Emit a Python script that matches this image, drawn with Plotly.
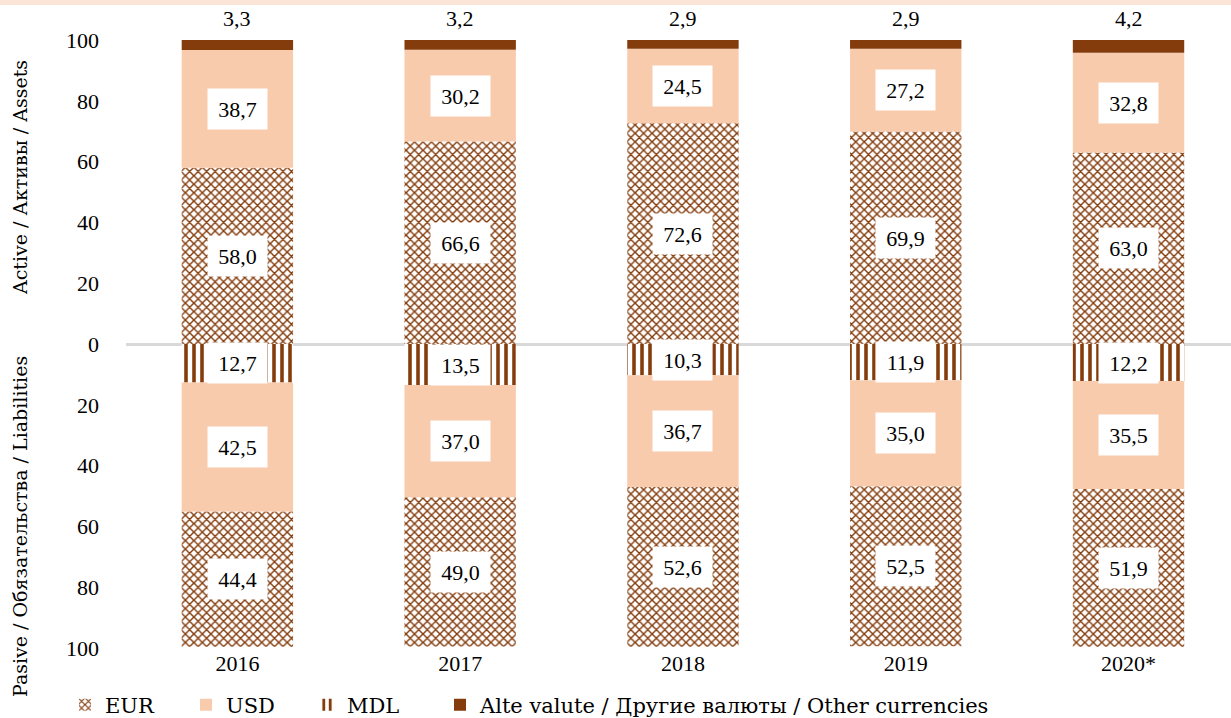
import plotly.graph_objects as go

years = ["2016", "2017", "2018", "2019", "2020*"]
assets_eur = [58.0, 66.6, 72.6, 69.9, 63.0]
assets_usd = [38.7, 30.2, 24.5, 27.2, 32.8]
assets_other = [3.3, 3.2, 2.9, 2.9, 4.2]
liab_mdl = [12.7, 13.5, 10.3, 11.9, 12.2]
liab_usd = [42.5, 37.0, 36.7, 35.0, 35.5]
liab_eur = [44.4, 49.0, 52.6, 52.5, 51.9]
tick_vals = [-100, -80, -60, -40, -20, 0, 20, 40, 60, 80, 100]
tick_text = [str(abs(v)) for v in tick_vals]

BROWN = "#843c0c"
PEACH = "#f8cbad"
NUMFONT = "Liberation Serif"
TXTFONT = "DejaVu Serif"

eur_pattern = dict(shape="x", size=6, solidity=0.42, fgcolor=BROWN, bgcolor="white", fillmode="replace")
mdl_pattern = dict(shape="|", size=8, solidity=0.45, fgcolor=BROWN, bgcolor="white", fillmode="replace")

def fmt(v):
    return f"{v:.1f}".replace(".", ",")

fig = go.Figure()
W = 0.5
fig.add_bar(x=years, y=assets_eur, name="EUR", width=W, marker=dict(color="white", pattern=eur_pattern, line_width=0),
            legendrank=1)
fig.add_bar(x=years, y=assets_usd, name="USD", width=W, marker=dict(color=PEACH, line_width=0), legendrank=2)
fig.add_bar(x=years, y=assets_other, name="Alte valute / Другие валюты / Other currencies", width=W,
            marker=dict(color=BROWN, line_width=0), legend="legend2")
fig.add_bar(x=years, y=[-v for v in liab_mdl], name="MDL", width=W,
            marker=dict(color="white", pattern=mdl_pattern, line_width=0), legendrank=3)
fig.add_bar(x=years, y=[-v for v in liab_usd], name="USD", width=W, marker=dict(color=PEACH, line_width=0),
            showlegend=False)
fig.add_bar(x=years, y=[-v for v in liab_eur], name="EUR", width=W,
            marker=dict(color="white", pattern=eur_pattern, line_width=0), showlegend=False)

ann = []
numfont = dict(family=NUMFONT, size=22, color="black")
box = dict(bgcolor="white", borderpad=7, width=45, height=26, font=numfont, showarrow=False,
           xref="x", yref="y", xanchor="center", yanchor="middle")
for i in range(len(years)):
    e, u, o = assets_eur[i], assets_usd[i], assets_other[i]
    ann.append(dict(x=i, y=e / 2, text=fmt(e), **box))
    ann.append(dict(x=i, y=e + u / 2, text=fmt(u), **box))
    ann.append(dict(x=i, y=e + u + o, text=fmt(o), showarrow=False, xref="x", yref="y", yanchor="bottom",
                    xanchor="center", yshift=7, font=numfont))
    m, lu, le = liab_mdl[i], liab_usd[i], liab_eur[i]
    ann.append(dict(x=i, y=-m / 2, text=fmt(m), **box))
    ann.append(dict(x=i, y=-(m + lu / 2), text=fmt(lu), **box))
    ann.append(dict(x=i, y=-(m + lu + le / 2), text=fmt(le), **box))

PL, PT, PW, PH = 126, 40, 1105, 608
titlefont = dict(family=TXTFONT, size=19, color="black")
for txt, py in [("Active / Активы / Assets", 178), ("Pasive / Обязательства / Liabilities", 527)]:
    ann.append(dict(text=txt, textangle=-90, x=(20 - PL) / PW, y=1 - (py - PT) / PH, xref="paper", yref="paper",
                    xanchor="center", yanchor="middle", showarrow=False, font=titlefont))

legfont = dict(family=TXTFONT, size=21, color="black")
LEG_Y = 13 / 718
fig.update_layout(
    barmode="relative",
    width=1231, height=718,
    margin=dict(l=PL, r=0, t=PT, b=70, autoexpand=False),
    plot_bgcolor="white", paper_bgcolor="white",
    font=dict(family=NUMFONT, size=22, color="black"),
    annotations=ann,
    showlegend=True,
    legend=dict(orientation="h", xref="container", yref="container", x=65 / 1231, y=LEG_Y, yanchor="middle",
                xanchor="left", entrywidth=76, itemwidth=30, font=legfont, traceorder="normal"),
    legend2=dict(orientation="h", xref="container", yref="container", x=440 / 1231, y=LEG_Y, yanchor="middle",
                 xanchor="left", itemwidth=30, font=legfont),
    shapes=[dict(type="rect", xref="paper", yref="paper", x0=-1, x1=2, y0=1 + 35 / PH, y1=1 + 41 / PH,
                 fillcolor="#fbe5d6", line_width=0, layer="below")],
)
fig.update_xaxes(range=[-0.5, 4.46], showgrid=False, showline=False, ticks="",
                 tickfont=dict(family=NUMFONT, size=22))
fig.update_yaxes(range=[-100, 100], tickvals=tick_vals, ticktext=tick_text, showgrid=False, zeroline=True,
                 zerolinecolor="#d9d9d9", zerolinewidth=3, showline=False, ticks="", ticklabelstandoff=26,
                 tickfont=dict(family=NUMFONT, size=22))
fig.write_html("out.html", config={"displayModeBar": False},
               post_script="document.body.style.margin='0';")
